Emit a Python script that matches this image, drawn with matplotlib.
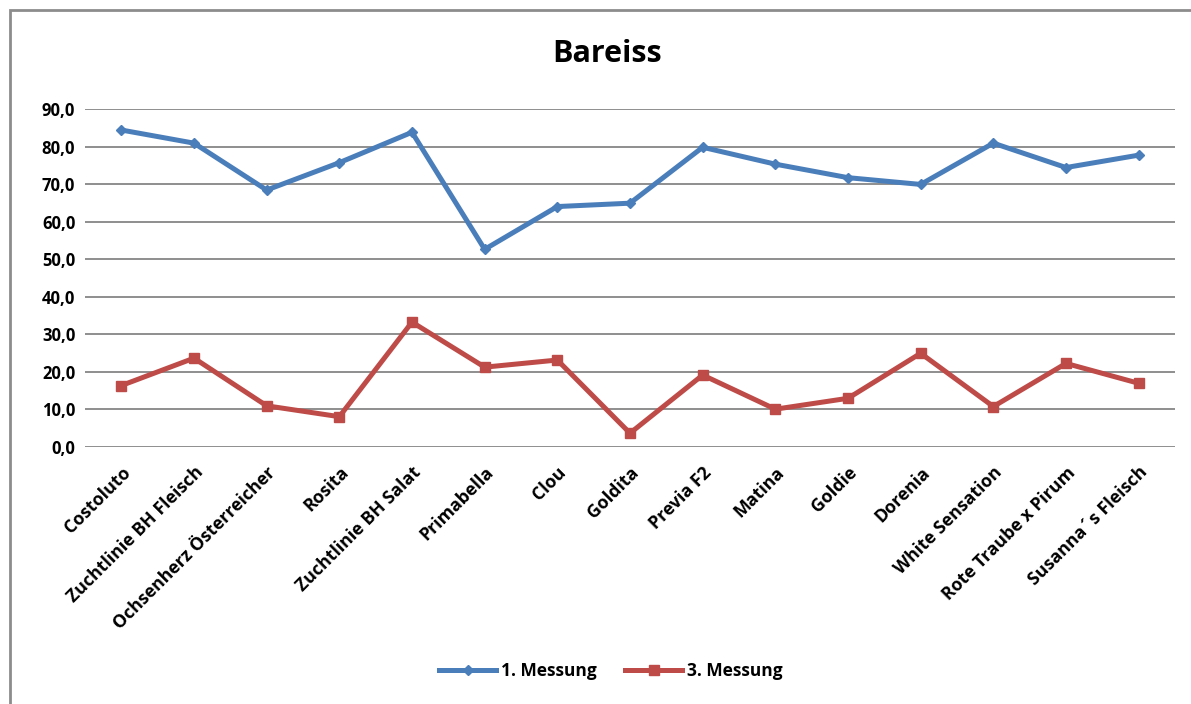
import matplotlib.pyplot as plt
from matplotlib.patches import Rectangle
from matplotlib.ticker import FuncFormatter

# Tomato varieties and two measurement rounds
sorten = [
    "Costoluto", "Zuchtlinie BH Fleisch", "Ochsenherz Österreicher", "Rosita",
    "Zuchtlinie BH Salat", "Primabella", "Clou", "Goldita", "Previa F2",
    "Matina", "Goldie", "Dorenia", "White Sensation", "Rote Traube x Pirum",
    "Susanna´s Fleisch",
]
messung_1 = [84.4, 80.9, 68.4, 75.7, 83.8, 52.6, 64.0, 64.9, 79.8, 75.3,
             71.7, 69.9, 80.9, 74.4, 77.7]
messung_3 = [16.3, 23.6, 10.9, 8.0, 33.2, 21.2, 23.1, 3.6, 19.1, 10.0,
             12.9, 24.9, 10.7, 22.2, 16.9]
y_ticks = [0, 10, 20, 30, 40, 50, 60, 70, 80, 90]

plt.rcParams["font.family"] = ["Open Sans", "DejaVu Sans"]
plt.rcParams["font.weight"] = "bold"

W, H = 1191, 704
fig = plt.figure(figsize=(W / 100, H / 100), dpi=100)
ax = fig.add_axes([85 / W, 1 - 446.7 / H, 1090 / W, 337.7 / H])

x = list(range(len(sorten)))
ax.plot(x, messung_1, color="#4a7ebb", lw=3.6, marker="D", ms=5,
        label="1. Messung")
ax.plot(x, messung_3, color="#be4b48", lw=3.6, marker="s", ms=7,
        label="3. Messung")

ax.set_xlim(-0.5, len(sorten) - 0.5)
ax.set_ylim(0, 90)
ax.set_yticks(y_ticks)
ax.yaxis.set_major_formatter(FuncFormatter(lambda v, p: f"{v:.1f}".replace(".", ",")))
ax.grid(axis="y", color="#868686", lw=1.3)
ax.set_axisbelow(True)
for s in ax.spines.values():
    s.set_visible(False)
ax.tick_params(axis="both", length=0, labelsize=12)
ax.tick_params(axis="y", pad=7)

ax.set_xticks(x)
ax.set_xticklabels(sorten, rotation=45, ha="right", rotation_mode="anchor",
                   fontsize=12.8, fontweight="bold")
ax.tick_params(axis="x", pad=12)

fig.text(607 / W, 1 - 54 / H, "Bareiss", ha="center", va="center",
         fontsize=22, fontweight="bold")

fig.legend(loc="center", bbox_to_anchor=(611 / W, 1 - 671 / H), ncol=2,
           frameon=False, fontsize=12.5, handlelength=3.3, columnspacing=1.6,
           handletextpad=0.3)

# outer chart frame
fig.patches.append(Rectangle((10 / W, -0.01), 1.0, 1 - 10 / H + 0.01,
                             transform=fig.transFigure, fill=False,
                             edgecolor="#8c8c8c", lw=2))

fig.savefig("out.png", dpi=100)
